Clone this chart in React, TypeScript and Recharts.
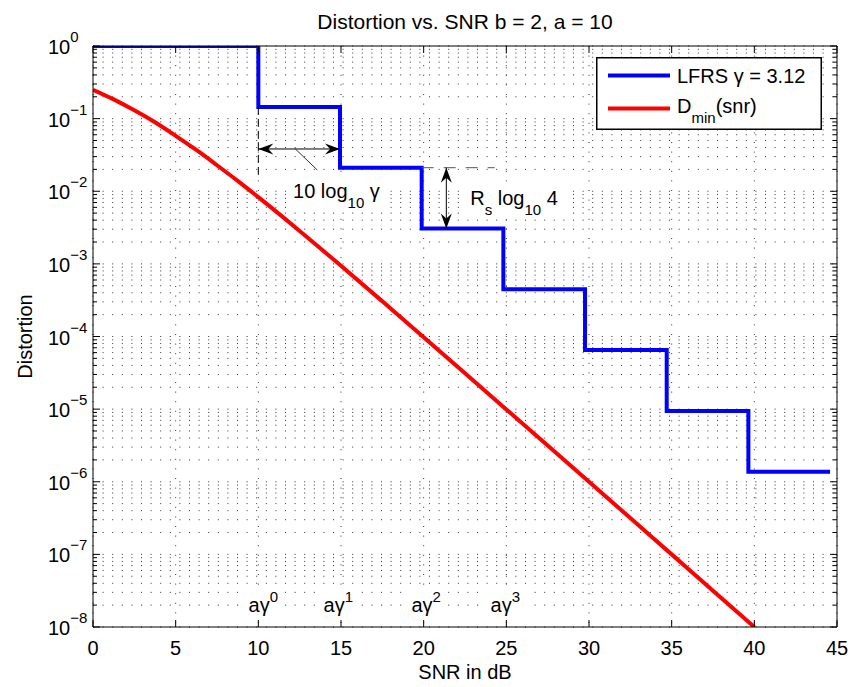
import React from 'react';
import {
  LineChart,
  Line,
  XAxis,
  YAxis,
  CartesianGrid,
  ReferenceLine,
  ReferenceDot,
  Legend,
  Label,
} from 'recharts';

const FONT = '"Liberation Sans", Arial, Helvetica, sans-serif';

// LFRS staircase: SNR (dB) where each level starts, and its distortion
const lfrsSnr = [0, 10, 14.94, 19.88, 24.82, 29.76, 34.7, 39.64, 44.58];
const lfrsDistortion = [1, 0.145, 0.0211, 0.00307, 0.000446, 0.000065, 0.00000944, 0.00000137, 0.00000137];

// D_min(snr) curve
const dminSnr = [0, 1.25, 2.5, 3.75, 5, 6.25, 7.5, 8.75, 10, 12.5, 15, 17.5, 20, 22.5, 25, 27.5, 30, 32.5, 35, 37.5, 40];
const dminDistortion = [
  0.25, 0.184, 0.13, 0.089, 0.058, 0.037, 0.0228, 0.0139, 0.0083, 0.00284, 0.00094, 0.000305, 0.000098,
  0.0000313, 0.0000099, 0.00000315, 0.000001, 0.000000316, 0.0000001, 0.0000000316, 0.00000001,
];

const seriesNames = ['LFRS \u03b3 = 3.12', 'D_min(snr)'];
const seriesColors = ['#0000ff', '#ff0000'];

const xTicks = [0, 5, 10, 15, 20, 25, 30, 35, 40, 45];
const yDecadeExponents = [-8, -7, -6, -5, -4, -3, -2, -1, 0];
const yMinorMultipliers = [2, 3, 4, 5, 6, 7, 8, 9];

const titleText = 'Distortion vs. SNR b = 2, a = 10';
const xLabelText = 'SNR in dB';
const yLabelText = 'Distortion';

// annotation anchors (data coordinates)
const gapDashedX = 10;
const gapDashedTop = 0.145;
const gapDashedBottom = 0.0167;
const gapArrowLevel = 0.0382;
const gapArrowFrom = 10;
const gapArrowTo = 14.94;
const leaderFrom = { x: 12.24, y: 0.0382 };
const leaderTo = { x: 13.57, y: 0.0196 };
const gapTextAt = { x: 12.1, y: 0.008 };
const rateDashFrom = 19.88;
const rateDashTo = 24.3;
const rateArrowX = 21.37;
const rateArrowTop = 0.0211;
const rateArrowBottom = 0.00307;
const rateTextAt = { x: 22.82, y: 0.00647 };
const aGammaSnr = [10.3, 14.84, 20.15, 24.94];
const aGammaPowers = ['0', '1', '2', '3'];
const aGammaLevel = 1.61e-8;

const lfrsData = lfrsSnr.map((snr, i) => ({ snr, d: lfrsDistortion[i] }));
const dminData = dminSnr.map((snr, i) => ({ snr, d: dminDistortion[i] }));

const yTicks: number[] = [];
yDecadeExponents.forEach((e) => {
  yTicks.push(Math.pow(10, e));
  if (e < 0) yMinorMultipliers.forEach((m) => yTicks.push(m * Math.pow(10, e)));
});

const decadeOf = (v: number) => {
  const lg = Math.log10(v);
  const r = Math.round(lg);
  return { major: Math.abs(lg - r) < 1e-9, exp: r };
};

const LeftTick = (props: any) => {
  const { x, y, payload } = props;
  const { major, exp } = decadeOf(payload.value);
  return (
    <g>
      <line x1={x} y1={y} x2={x + (major ? 7 : 4)} y2={y} stroke="#000" strokeWidth={1} />
      {major && (
        <text x={x - 45} y={y + 8} fontSize={20} fontFamily={FONT} fill="#000">
          10
          <tspan dy={-12} fontSize={15}>
            {exp === 0 ? '0' : '\u2212' + Math.abs(exp)}
          </tspan>
        </text>
      )}
    </g>
  );
};

const RightTick = (props: any) => {
  const { x, y, payload } = props;
  const { major } = decadeOf(payload.value);
  return <line x1={x} y1={y} x2={x - (major ? 7 : 4)} y2={y} stroke="#000" strokeWidth={1} />;
};

const BottomTick = (props: any) => {
  const { x, y, payload } = props;
  return (
    <g>
      <line x1={x} y1={y} x2={x} y2={y - 7} stroke="#000" strokeWidth={1} />
      <text x={x} y={y + 28} textAnchor="middle" fontSize={20} fontFamily={FONT} fill="#000">
        {payload.value}
      </text>
    </g>
  );
};

const TopTick = (props: any) => {
  const { x, y } = props;
  return <line x1={x} y1={y} x2={x} y2={y + 7} stroke="#000" strokeWidth={1} />;
};

const arrowHead = (tx: number, ty: number, dx: number, dy: number) => {
  const L = 15;
  const W = 5.5;
  const N = 10;
  const nx = -dy;
  const ny = dx;
  return `M${tx},${ty} L${tx + dx * L + nx * W},${ty + dy * L + ny * W} L${tx + dx * N},${ty + dy * N} L${tx + dx * L - nx * W},${ty + dy * L - ny * W} Z`;
};

const DoubleArrow = (props: any) => {
  const { x1, y1, x2, y2 } = props;
  const len = Math.hypot(x2 - x1, y2 - y1) || 1;
  const ux = (x2 - x1) / len;
  const uy = (y2 - y1) / len;
  return (
    <g>
      <line x1={x1} y1={y1} x2={x2} y2={y2} stroke="#000" strokeWidth={1} />
      <path d={arrowHead(x1, y1, ux, uy)} fill="#000" />
      <path d={arrowHead(x2, y2, -ux, -uy)} fill="#000" />
    </g>
  );
};

const GapText = (props: any) => {
  const { cx, cy } = props;
  return (
    <g>
      <rect x={cx - 5} y={cy - 19} width={98} height={32} fill="#fff" />
      <text x={cx} y={cy} fontSize={20} fontFamily={FONT} fill="#000">
        10 log
        <tspan fontSize={15} dy={10}>
          10
        </tspan>
        <tspan dy={-10}> {'\u03b3'}</tspan>
      </text>
    </g>
  );
};

const RateText = (props: any) => {
  const { cx, cy } = props;
  return (
    <g>
      <rect x={cx - 6} y={cy - 20} width={104} height={34} fill="#fff" />
      <text x={cx} y={cy} fontSize={20} fontFamily={FONT} fill="#000">
        R
        <tspan fontSize={15} dy={10}>
          s
        </tspan>
        <tspan dy={-10}> log</tspan>
        <tspan fontSize={15} dy={10}>
          10
        </tspan>
        <tspan dy={-10}> 4</tspan>
      </text>
    </g>
  );
};

const makeAGamma = (power: string) => (props: any) => {
  const { cx, cy } = props;
  return (
    <g>
      <rect x={cx - 21} y={cy - 22} width={42} height={30} fill="#fff" />
      <text x={cx} y={cy} textAnchor="middle" fontSize={20} fontFamily={FONT} fill="#000">
        a{'\u03b3'}
        <tspan dy={-10} fontSize={15}>
          {power}
        </tspan>
      </text>
    </g>
  );
};

const renderLegend = (props: any) => {
  const payload = [...(props.payload || [])].sort(
    (a: any, b: any) => seriesNames.indexOf(String(a.value)) - seriesNames.indexOf(String(b.value)),
  );
  return (
    <svg width={226} height={73} style={{ display: 'block' }}>
      <rect x={0.75} y={0.75} width={224.5} height={71.5} fill="#fff" stroke="#000" strokeWidth={1.5} />
      {payload.map((p: any, i: number) => {
        const cy = i === 0 ? 18.5 : 51.5;
        const base = i === 0 ? 26.3 : 56.3;
        const name = String(p.value);
        const m = name.match(/^(.*)_(\w+)(\(.*\))$/);
        return (
          <g key={i}>
            <line x1={12} x2={74} y1={cy} y2={cy} stroke={p.color} strokeWidth={4} />
            <text x={81} y={base} fontSize={20} fontFamily={FONT} fill="#000">
              {m ? (
                <>
                  {m[1]}
                  <tspan fontSize={15} dy={10}>
                    {m[2]}
                  </tspan>
                  <tspan dy={-10}>{m[3]}</tspan>
                </>
              ) : (
                name
              )}
            </text>
          </g>
        );
      })}
    </svg>
  );
};

export default function App() {
  return (
    <div style={{ position: 'absolute', left: 0, top: 0, width: 852, height: 687, background: '#fff' }}>
      <LineChart width={852} height={687} margin={{ top: 0, right: 0, bottom: 0, left: 0 }}>
        <CartesianGrid stroke="#333" strokeWidth={1} strokeDasharray="1 8.6" />
        <XAxis
          xAxisId={0}
          dataKey="snr"
          type="number"
          domain={[0, 45]}
          ticks={xTicks}
          interval={0}
          allowDataOverflow
          orientation="bottom"
          height={60}
          tickSize={0}
          tickMargin={0}
          tickLine={false}
          axisLine={{ stroke: '#000', strokeWidth: 1 }}
          tick={<BottomTick />}
        >
          <Label
            content={(p: any) => {
              const vb = p.viewBox || {};
              const cx = (vb.x ?? 93) + (vb.width ?? 744) / 2;
              return (
                <text x={cx} y={679} textAnchor="middle" fontSize={20} fontFamily={FONT} fill="#000">
                  {xLabelText}
                </text>
              );
            }}
          />
        </XAxis>
        <XAxis
          xAxisId="top"
          dataKey="snr"
          type="number"
          domain={[0, 45]}
          ticks={xTicks}
          interval={0}
          allowDataOverflow
          orientation="top"
          height={46}
          tickSize={0}
          tickMargin={0}
          tickLine={false}
          axisLine={{ stroke: '#000', strokeWidth: 1 }}
          tick={<TopTick />}
        >
          <Label
            content={(p: any) => {
              const vb = p.viewBox || {};
              const cx = (vb.x ?? 93) + (vb.width ?? 744) / 2;
              return (
                <text x={cx} y={29} textAnchor="middle" fontSize={21} fontFamily={FONT} fill="#000">
                  {titleText}
                </text>
              );
            }}
          />
        </XAxis>
        <YAxis
          yAxisId={0}
          type="number"
          scale="log"
          domain={[1e-8, 1]}
          ticks={yTicks}
          interval={0}
          allowDataOverflow
          orientation="left"
          width={93}
          tickSize={0}
          tickMargin={0}
          tickLine={false}
          axisLine={{ stroke: '#000', strokeWidth: 1 }}
          tick={<LeftTick />}
        >
          <Label
            content={(p: any) => {
              const vb = p.viewBox || {};
              const cy = (vb.y ?? 46) + (vb.height ?? 581) / 2;
              return (
                <text
                  x={25}
                  y={cy}
                  transform={`rotate(-90, 25, ${cy})`}
                  textAnchor="middle"
                  dominantBaseline="central"
                  fontSize={20}
                  fontFamily={FONT}
                  fill="#000"
                >
                  {yLabelText}
                </text>
              );
            }}
          />
        </YAxis>
        <YAxis
          yAxisId="right"
          type="number"
          scale="log"
          domain={[1e-8, 1]}
          ticks={yTicks}
          interval={0}
          allowDataOverflow
          orientation="right"
          width={15}
          tickSize={0}
          tickMargin={0}
          tickLine={false}
          axisLine={{ stroke: '#000', strokeWidth: 1 }}
          tick={<RightTick />}
        />

        <Line
          data={lfrsData}
          dataKey="d"
          name={seriesNames[0]}
          type="stepAfter"
          stroke={seriesColors[0]}
          strokeWidth={4}
          dot={false}
          activeDot={false}
          isAnimationActive={false}
        />
        <Line
          data={dminData}
          dataKey="d"
          name={seriesNames[1]}
          type="monotone"
          stroke={seriesColors[1]}
          strokeWidth={4}
          dot={false}
          activeDot={false}
          isAnimationActive={false}
        />

        <ReferenceLine
          segment={[
            { x: gapDashedX, y: gapDashedTop },
            { x: gapDashedX, y: gapDashedBottom },
          ]}
          stroke="#000"
          strokeWidth={1}
          strokeDasharray="8 4"
        />
        <ReferenceLine
          segment={[
            { x: gapArrowFrom, y: gapArrowLevel },
            { x: gapArrowTo, y: gapArrowLevel },
          ]}
          shape={DoubleArrow}
        />
        <ReferenceLine segment={[leaderFrom, leaderTo]} stroke="#000" strokeWidth={0.8} />
        <ReferenceDot x={gapTextAt.x} y={gapTextAt.y} r={0} shape={GapText} />

        <ReferenceLine
          segment={[
            { x: rateDashFrom, y: rateArrowTop },
            { x: rateDashTo, y: rateArrowTop },
          ]}
          stroke="#555"
          strokeWidth={1}
          strokeDasharray="12 10"
        />
        <ReferenceLine
          segment={[
            { x: rateArrowX, y: rateArrowTop },
            { x: rateArrowX, y: rateArrowBottom },
          ]}
          shape={DoubleArrow}
        />
        <ReferenceDot x={rateTextAt.x} y={rateTextAt.y} r={0} shape={RateText} />

        {aGammaSnr.map((s, i) => (
          <ReferenceDot key={'ag' + i} x={s} y={aGammaLevel} r={0} shape={makeAGamma(aGammaPowers[i])} />
        ))}

        <Legend
          layout="vertical"
          align="center"
          verticalAlign="middle"
          wrapperStyle={{ position: 'absolute', left: 596, top: 57, width: 226, height: 73 }}
          content={renderLegend}
        />
      </LineChart>
    </div>
  );
}
